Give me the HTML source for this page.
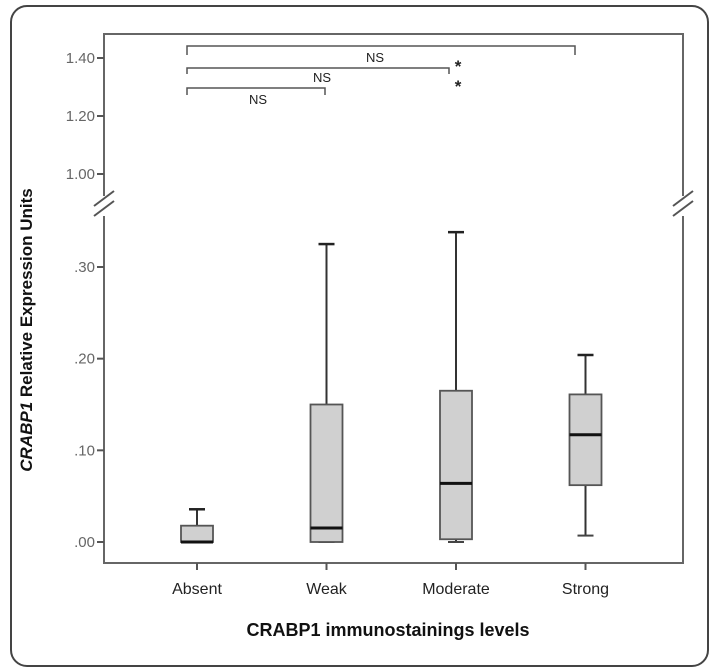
<!DOCTYPE html>
<html><head><meta charset="utf-8">
<style>
html,body{margin:0;padding:0;background:#fff;width:713px;height:672px;overflow:hidden}
svg{display:block;font-family:"Liberation Sans",Arial,sans-serif}
</style></head>
<body>
<svg id="chart" width="713" height="672" viewBox="0 0 713 672">
<rect x="11" y="6" width="697" height="660" rx="16" ry="16" fill="#fff" stroke="#444" stroke-width="2"/>
<rect x="104" y="34" width="579" height="529" fill="#fff" stroke="#666" stroke-width="2"/>
<g id="marks"></g>
<text x="32" y="330" transform="rotate(-90 32 330)" text-anchor="middle" font-size="17" font-weight="bold" fill="#111"><tspan font-style="italic">CRABP1</tspan> Relative Expression Units</text>
<text x="388" y="636" text-anchor="middle" font-size="18" font-weight="bold" fill="#111">CRABP1 immunostainings levels</text>
</svg>
<script>
const categories = ["Absent","Weak","Moderate","Strong"];
const whiskerMin = [0, 0, 0, 0.007];
const q1Values = [0, 0, 0.003, 0.062];
const medianValues = [0, 0.0153, 0.064, 0.117];
const q3Values = [0.0178, 0.150, 0.165, 0.161];
const whiskerMax = [0.0357, 0.325, 0.338, 0.204];
const lowerTicks = [0, 0.10, 0.20, 0.30];
const lowerTickLabels = [".00", ".10", ".20", ".30"];
const upperTicks = [1.00, 1.20, 1.40];
const upperTickLabels = ["1.00", "1.20", "1.40"];

const NS = "http://www.w3.org/2000/svg";
const g = document.getElementById('marks');
function yLow(v){ return 542 - v * 916.7; }
function yUp(v){ return 174 - (v - 1.0) * 290; }
function xCat(i){ return 197 + i * 129.5; }
function mk(tag, attrs){ const e=document.createElementNS(NS,tag); for(const k in attrs) e.setAttribute(k,attrs[k]); g.appendChild(e); return e; }

lowerTicks.forEach((v,i)=>{
  const t=mk('line',{x1:97,x2:104,y1:yLow(v),y2:yLow(v),stroke:'#555','stroke-width':2});
  
  
  const l=mk('text',{x:95,y:yLow(v)+5,'text-anchor':'end','font-size':15,fill:'#666'});
  l.textContent=lowerTickLabels[i];
  
  
});
upperTicks.forEach((v,i)=>{
  const t=mk('line',{x1:97,x2:104,y1:yUp(v),y2:yUp(v),stroke:'#555','stroke-width':2});
  
  
  const l=mk('text',{x:95,y:yUp(v)+5,'text-anchor':'end','font-size':15,fill:'#666'});
  l.textContent=upperTickLabels[i];
  
  
});
[104,683].forEach(x=>{
  mk('rect',{x:x-4,y:196,width:8,height:20,fill:'#fff'});
  [0,10].forEach(d=>{
    const b=mk('line',{x1:x-10,y1:206+d,x2:x+10,y2:191+d,stroke:'#555','stroke-width':2});
    
    
  });
});
categories.forEach((c,i)=>{
  const x=xCat(i), hw=16, cw=8;
  const tk=mk('line',{x1:x,x2:x,y1:563,y2:570,stroke:'#555','stroke-width':2});
  
  
  const lb=mk('text',{x:x,y:594,'text-anchor':'middle','font-size':16,fill:'#222'});
  lb.textContent=c;
  
  
  const w1=mk('line',{x1:x,x2:x,y1:yLow(q3Values[i]),y2:yLow(whiskerMax[i]),stroke:'#333','stroke-width':2});
  
  
  const c1=mk('line',{x1:x-cw,x2:x+cw,y1:yLow(whiskerMax[i]),y2:yLow(whiskerMax[i]),stroke:'#222','stroke-width':2.5});
  
  
  const w2=mk('line',{x1:x,x2:x,y1:yLow(q1Values[i]),y2:yLow(whiskerMin[i]),stroke:'#333','stroke-width':2});
  
  
  const c2=mk('line',{x1:x-cw,x2:x+cw,y1:yLow(whiskerMin[i]),y2:yLow(whiskerMin[i]),stroke:'#444','stroke-width':2});
  
  
  const top=yLow(q3Values[i]), bot=yLow(q1Values[i]);
  const b=mk('rect',{x:x-hw,y:top,width:hw*2,height:Math.max(bot-top,0.5),fill:'#d0d0d0',stroke:'#555','stroke-width':1.8});
  
  
  const m=mk('line',{x1:x-hw,x2:x+hw,y1:yLow(medianValues[i]),y2:yLow(medianValues[i]),stroke:'#111','stroke-width':3});
  
  
});
const brackets=[[0,3,46,55],[0,2,68,74],[0,1,88,95]];
const bracketLabels=["NS","NS","NS"];
const labelY=[62,82,104];
const labelX=[375,322,258];
brackets.forEach((b,i)=>{
  const x1=187, x2=[575,449,325][i];
  const p=mk('path',{d:`M${x1},${b[3]}V${b[2]}H${x2}V${b[3]}`,fill:'none',stroke:'#555','stroke-width':1.5});
  
  
  const t=mk('text',{x:labelX[i],y:labelY[i],'text-anchor':'middle','font-size':13,fill:'#222'});
  t.textContent=bracketLabels[i];
  
  
});
[72,92].forEach(y=>{
  const s=mk('text',{x:458,y:y,'text-anchor':'middle','font-size':17,'font-weight':'bold',fill:'#222'});
  s.textContent='*';
  
  
});
</script>
</body></html>
